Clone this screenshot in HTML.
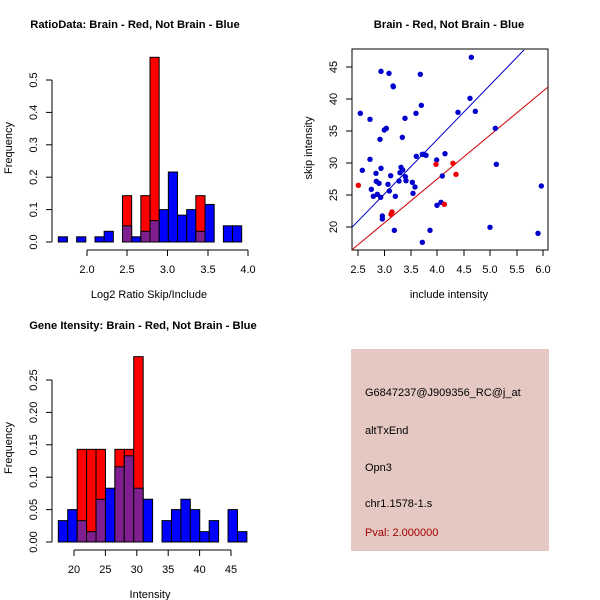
<!DOCTYPE html>
<html><head><meta charset="utf-8"><style>
html,body{margin:0;padding:0;background:#fff;}
svg{display:block;font-family:"Liberation Sans",sans-serif;}
</style></head><body>
<svg id="s" width="600" height="600" xmlns="http://www.w3.org/2000/svg">
<rect width="600" height="600" fill="#fff"/>
<g font-size="11.2" font-weight="bold" text-anchor="middle">
<text x="135" y="28">RatioData: Brain - Red, Not Brain - Blue</text>
<text x="449" y="28">Brain - Red, Not Brain - Blue</text>
<text x="143" y="329">Gene Itensity: Brain - Red, Not Brain - Blue</text>
</g>
<g font-size="11" text-anchor="middle" fill="#000">
<text x="149" y="298">Log2 Ratio Skip/Include</text>
<text x="449" y="298">include intensity</text>
<text x="150" y="598">Intensity</text>
<text transform="translate(12,148) rotate(-90)">Frequency</text>
<text transform="translate(312,148) rotate(-90)">skip intensity</text>
<text transform="translate(12,448) rotate(-90)">Frequency</text>
<text transform="translate(37,242) rotate(-90)">0.0</text>
<text transform="translate(37,209.6) rotate(-90)">0.1</text>
<text transform="translate(37,177.2) rotate(-90)">0.2</text>
<text transform="translate(37,144.8) rotate(-90)">0.3</text>
<text transform="translate(37,112.4) rotate(-90)">0.4</text>
<text transform="translate(37,80) rotate(-90)">0.5</text>
<text x="87" y="273">2.0</text><text x="127" y="273">2.5</text><text x="167.5" y="273">3.0</text><text x="208" y="273">3.5</text><text x="248" y="273">4.0</text>
<text x="358" y="273">2.5</text><text x="384.5" y="273">3.0</text><text x="411" y="273">3.5</text><text x="437" y="273">4.0</text><text x="464" y="273">4.5</text><text x="490" y="273">5.0</text><text x="517" y="273">5.5</text><text x="543" y="273">6.0</text>
<text transform="translate(337,227) rotate(-90)">20</text>
<text transform="translate(337,195) rotate(-90)">25</text>
<text transform="translate(337,163) rotate(-90)">30</text>
<text transform="translate(337,131) rotate(-90)">35</text>
<text transform="translate(337,99) rotate(-90)">40</text>
<text transform="translate(337,67) rotate(-90)">45</text>
<text transform="translate(37,542) rotate(-90)">0.00</text>
<text transform="translate(37,509.6) rotate(-90)">0.05</text>
<text transform="translate(37,477.2) rotate(-90)">0.10</text>
<text transform="translate(37,444.8) rotate(-90)">0.15</text>
<text transform="translate(37,412.4) rotate(-90)">0.20</text>
<text transform="translate(37,380) rotate(-90)">0.25</text>
<text x="74" y="573">20</text><text x="105.4" y="573">25</text><text x="136.8" y="573">30</text><text x="168.2" y="573">35</text><text x="199.6" y="573">40</text><text x="231" y="573">45</text>
</g>
<g id="g"></g>
<rect x="351" y="349" width="198" height="202" fill="#e5c8c2"/>
<g font-size="11" fill="#000">
<text x="365" y="396">G6847237@J909356_RC@j_at</text>
<text x="365" y="434">altTxEnd</text>
<text x="365" y="471">Opn3</text>
<text x="365" y="507">chr1.1578-1.s</text>
<text x="365" y="536" fill="#a00000">Pval: 2.000000</text>
</g>
</svg>
<script>
var g=document.getElementById('g'),h='';
function R(x,y,w,hh,c){h+='<rect x="'+x+'" y="'+y+'" width="'+w+'" height="'+hh+'" fill="'+c+'" stroke="#000" stroke-width="1"/>';}
function L(a,b,c,d,col){h+='<line x1="'+a+'" y1="'+b+'" x2="'+c+'" y2="'+d+'" stroke="'+(col||'#000')+'" stroke-width="1"/>';}
function hist(x0,w,base,sc,data){
 data.forEach(function(d){var i=d[0],b=d[1],r=d[2]||0,x=x0+w*i;
  if(r>0){R(x,base-r*sc,w,r*sc,'#ff0000'); if(b>0)R(x,base-b*sc,w,b*sc,'#7f1f8f');}
  else R(x,base-b*sc,w,b*sc,'#0000ff');
 });
}
hist(58.3,9.17,242,324,[[0,.016],[2,.016],[4,.016],[5,.033],[7,.05,.143],[8,.016],[9,.033,.143],[10,.066,.57],[11,.1],[12,.216],[13,.083],[14,.1],[15,.033,.143],[16,.116],[18,.05],[19,.05]]);
L(52,242,52,80);[242,209.6,177.2,144.8,112.4,80].forEach(function(y){L(46,y,52,y);});
L(87,250,248,250);[87,127,167.5,208,248].forEach(function(x){L(x,250,x,256);});
hist(58.3,9.43,542,648,[[0,.033],[1,.05],[2,.033,.143],[3,.016,.143],[4,.066,.143],[5,.083],[6,.116,.143],[7,.133,.143],[8,.083,.286],[9,.066],[11,.033],[12,.05],[13,.066],[14,.05],[15,.016],[16,.033],[18,.05],[19,.016]]);
L(52,542,52,380);[542,509.6,477.2,444.8,412.4,380].forEach(function(y){L(46,y,52,y);});
L(74,550,231,550);[74,105.4,136.8,168.2,199.6,231].forEach(function(x){L(x,550,x,556);});
h+='<rect x="352" y="49" width="196" height="201" fill="none" stroke="#000"/>';
[358,384.5,411,437,464,490,517,543].forEach(function(x){L(x,250,x,256);});
[227,195,163,131,99,67].forEach(function(y){L(346,y,352,y);});
h+='<clipPath id="c"><rect x="352" y="49" width="196" height="201"/></clipPath>';
h+='<g clip-path="url(#c)"><line x1="351.7" y1="227.7" x2="524" y2="50" stroke="#0000cc"/><line x1="351.7" y1="250" x2="548.3" y2="86.7" stroke="#cc0000"/></g>';
var B=[[181,220],[187,391],[210,238],[210,358],[214,448],[220,469],[228,400],[229,424],[232,463],[237,430],[240,298],[242,472],[243,94],[243,385],[247,528],[247,537],[253,270],[259,265],[264,433],[267,100],[268,453],[272,407],[279,138],[280,140],[283,571],[286,469],[297,423],[300,398],[303,382],[307,292],[308,390],[315,235],[316,410],[318,422],[337,427],[339,460],[345,441],[348,220],[349,349],[361,103],[364,196],[367,343],[367,607],[371,343],[378,346],[390,571],[410,360],[411,496],[423,487],[427,408],[435,341],[474,217],[510,175],[514,52],[526,214],[570,562],[586,265],[589,373],[724,438],[714,580]];
var Rd=[[175,436],[273,523],[276,516],[408,373],[433,493],[459,370],[468,403]];
B.forEach(function(p){h+='<circle cx="'+(300+p[0]/3)+'" cy="'+(40+p[1]/3)+'" r="2.7" fill="#0000cc"/>';});
Rd.forEach(function(p){h+='<circle cx="'+(300+p[0]/3)+'" cy="'+(40+p[1]/3)+'" r="2.7" fill="#ee0000"/>';});
g.innerHTML=h;
</script>
</body></html>
